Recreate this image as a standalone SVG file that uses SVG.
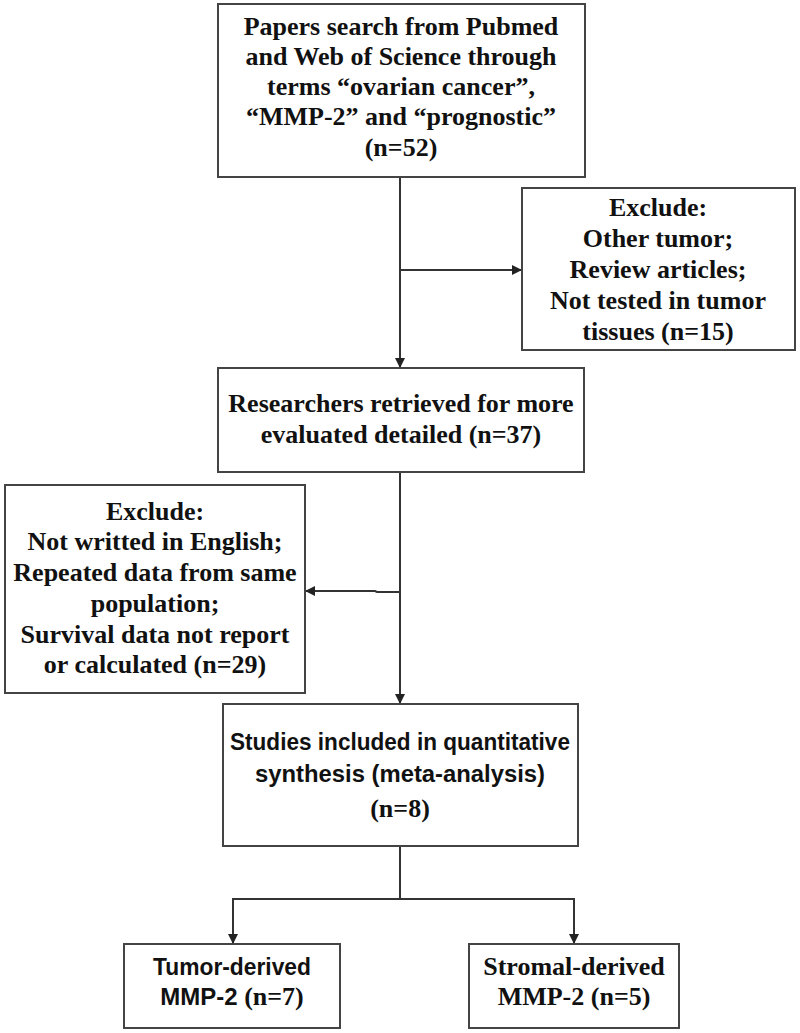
<svg xmlns="http://www.w3.org/2000/svg" width="800" height="1033" viewBox="0 0 800 1033">
<defs>
<marker id="arr" viewBox="0 0 10 10" refX="10" refY="5" markerWidth="10" markerHeight="10" markerUnits="userSpaceOnUse" orient="auto">
<path d="M0,0 L10,5 L0,10 Z" fill="#222"/>
</marker>
<style>
.box{fill:#fff;stroke:#444;stroke-width:2}
.t{font-family:"Liberation Serif","Times New Roman",serif;font-weight:bold;font-size:26px;fill:#111;text-anchor:middle}
.s{font-family:"Liberation Sans",Arial,sans-serif;font-weight:bold;font-size:23px;fill:#111;text-anchor:middle}
.ss{font-family:"Liberation Sans",Arial,sans-serif}
.c{fill:none;stroke:#333;stroke-width:2}
.ca{fill:none;stroke:#333;stroke-width:2;marker-end:url(#arr)}
</style>
</defs>
<rect width="800" height="1033" fill="#fff"/>
<g id="connectors">
<line class="ca" x1="400" y1="177" x2="400" y2="368"/>
<line class="ca" x1="400" y1="270" x2="522" y2="270"/>
<line class="ca" x1="400" y1="472" x2="400" y2="704"/>
<polyline class="ca" points="400,592 377,592 375,591 305,591"/>
<line class="c" x1="400" y1="846" x2="400" y2="899"/>
<line class="c" x1="233" y1="899" x2="574" y2="899"/>
<line class="ca" x1="233" y1="898" x2="233" y2="944"/>
<line class="ca" x1="574" y1="898" x2="574" y2="944"/>
</g>
<g id="search">
<rect class="box" x="218" y="4" width="367" height="173"/>
<text class="t" x="401" y="35">Papers search from Pubmed</text>
<text class="t" x="401" y="65">and Web of Science through</text>
<text class="t" x="401" y="95">terms “ovarian cancer”,</text>
<text class="t" x="401" y="125">“MMP-2” and “prognostic”</text>
<text class="t" x="401" y="156">(n=52)</text>
</g>
<g id="exclude1">
<rect class="box" x="522" y="188" width="273" height="162"/>
<text class="t" x="658" y="216">Exclude:</text>
<text class="t" x="658" y="247">Other tumor;</text>
<text class="t" x="658" y="278">Review articles;</text>
<text class="t" x="658" y="309">Not tested in tumor</text>
<text class="t" x="658" y="340">tissues (n=15)</text>
</g>
<g id="researchers">
<rect class="box" x="218" y="368" width="366" height="104"/>
<text class="t" x="401" y="412">Researchers retrieved for more</text>
<text class="t" x="401" y="443">evaluated detailed (n=37)</text>
</g>
<g id="exclude2">
<rect class="box" x="5" y="485" width="300" height="208"/>
<text class="t" x="155" y="520">Exclude:</text>
<text class="t" x="155" y="550">Not writted in English;</text>
<text class="t" x="155" y="581">Repeated data from same</text>
<text class="t" x="155" y="612">population;</text>
<text class="t" x="155" y="643">Survival data not report</text>
<text class="t" x="155" y="673">or calculated  (n=29)</text>
</g>
<g id="studies">
<rect class="box" x="223" y="704" width="355" height="142"/>
<text class="s" x="400" y="750" textLength="340" lengthAdjust="spacingAndGlyphs">Studies included in quantitative</text>
<text class="s" x="400" y="782" textLength="290" lengthAdjust="spacingAndGlyphs">synthesis (meta-analysis)</text>
<text class="t" x="400" y="817">(n=8)</text>
</g>
<g id="tumor">
<rect class="box" x="124" y="944" width="216" height="84"/>
<text class="s" x="232" y="975" textLength="158" lengthAdjust="spacingAndGlyphs">Tumor-derived</text>
<text class="t" x="232" y="1005"><tspan class="ss" font-size="24">MMP-2</tspan> (n=7)</text>
</g>
<g id="stromal">
<rect class="box" x="469" y="944" width="210" height="84"/>
<text class="t" x="574" y="975">Stromal-derived</text>
<text class="t" x="574" y="1005">MMP-2 (n=5)</text>
</g>
</svg>
